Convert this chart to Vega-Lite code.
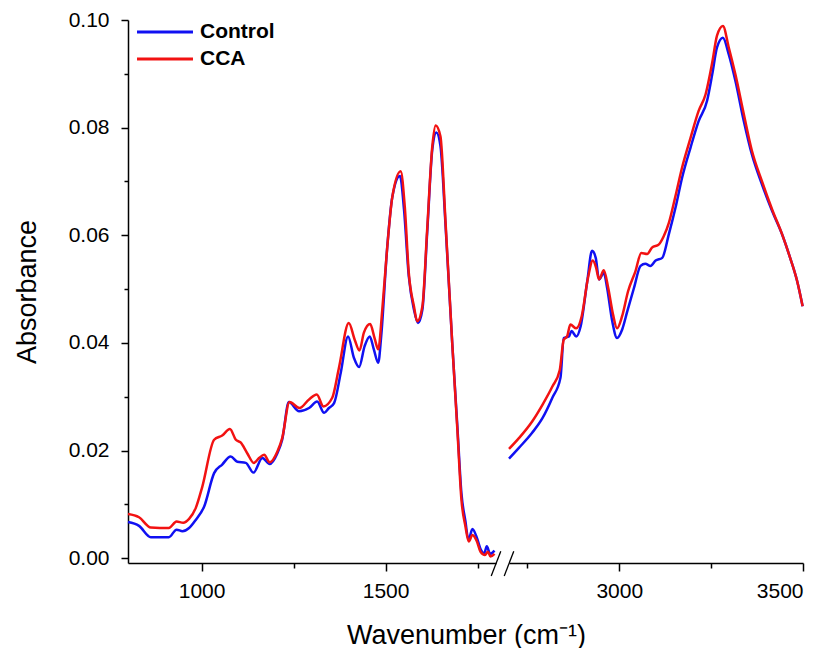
{
  "$schema": "https://vega.github.io/schema/vega-lite/v6.json",
  "padding": {"left": 13, "top": 9, "right": 0, "bottom": 0},
  "background": "white",
  "config": {
    "view": {"stroke": null},
    "font": "Liberation Sans",
    "axis": {"domainColor": "black", "domainWidth": 1.5, "tickColor": "black", "tickWidth": 1.5, "labelColor": "black", "titleColor": "black", "labelFont": "Liberation Sans", "titleFont": "Liberation Sans", "labelFontSize": 21, "titleFontSize": 27, "titleFontWeight": "normal", "grid": false}
  },
  "datasets": {
    "spectra": [
      {"s":"Control","wn":800,"a":0.0067},{"s":"Control","wn":830,"a":0.0060},{"s":"Control","wn":862,"a":0.0039},{"s":"Control","wn":911,"a":0.0039},{"s":"Control","wn":932,"a":0.0053},{"s":"Control","wn":948,"a":0.0050},{"s":"Control","wn":966,"a":0.0056},{"s":"Control","wn":984,"a":0.0071},{"s":"Control","wn":1007,"a":0.0096},{"s":"Control","wn":1034,"a":0.0158},{"s":"Control","wn":1056,"a":0.0174},{"s":"Control","wn":1079,"a":0.0189},{"s":"Control","wn":1097,"a":0.0179},{"s":"Control","wn":1120,"a":0.0177},{"s":"Control","wn":1141,"a":0.0159},{"s":"Control","wn":1165,"a":0.0186},{"s":"Control","wn":1185,"a":0.0175},{"s":"Control","wn":1206,"a":0.0195},{"s":"Control","wn":1219,"a":0.0220},{"s":"Control","wn":1237,"a":0.0290},{"s":"Control","wn":1265,"a":0.0273},{"s":"Control","wn":1292,"a":0.0279},{"s":"Control","wn":1314,"a":0.0291},{"s":"Control","wn":1333,"a":0.0270},{"s":"Control","wn":1346,"a":0.0279},{"s":"Control","wn":1360,"a":0.0288},{"s":"Control","wn":1378,"a":0.0344},{"s":"Control","wn":1398,"a":0.0412},{"s":"Control","wn":1414,"a":0.0372},{"s":"Control","wn":1428,"a":0.0355},{"s":"Control","wn":1443,"a":0.0394},{"s":"Control","wn":1457,"a":0.0412},{"s":"Control","wn":1468,"a":0.0388},{"s":"Control","wn":1480,"a":0.0363},{"s":"Control","wn":1488,"a":0.0412},{"s":"Control","wn":1504,"a":0.0574},{"s":"Control","wn":1518,"a":0.0670},{"s":"Control","wn":1539,"a":0.0710},{"s":"Control","wn":1550,"a":0.0648},{"s":"Control","wn":1563,"a":0.0524},{"s":"Control","wn":1577,"a":0.0462},{"s":"Control","wn":1588,"a":0.0437},{"s":"Control","wn":1600,"a":0.0462},{"s":"Control","wn":1613,"a":0.0605},{"s":"Control","wn":1627,"a":0.0760},{"s":"Control","wn":1638,"a":0.0791},{"s":"Control","wn":1649,"a":0.0766},{"s":"Control","wn":1663,"a":0.0617},{"s":"Control","wn":1681,"a":0.0400},{"s":"Control","wn":1695,"a":0.0245},{"s":"Control","wn":1706,"a":0.0121},{"s":"Control","wn":1717,"a":0.0068},{"s":"Control","wn":1725,"a":0.0034},{"s":"Control","wn":1736,"a":0.0054},{"s":"Control","wn":1747,"a":0.0040},{"s":"Control","wn":1758,"a":0.0017},{"s":"Control","wn":1768,"a":0.0009},{"s":"Control","wn":1775,"a":0.0022},{"s":"Control","wn":1784,"a":0.0008},{"s":"Control","wn":1796,"a":0.0014},
      {"s":"Control","wn":2700,"a":0.0185},{"s":"Control","wn":2727,"a":0.0205},{"s":"Control","wn":2763,"a":0.0233},{"s":"Control","wn":2791,"a":0.0260},{"s":"Control","wn":2818,"a":0.0298},{"s":"Control","wn":2840,"a":0.0335},{"s":"Control","wn":2849,"a":0.0409},{"s":"Control","wn":2863,"a":0.0412},{"s":"Control","wn":2870,"a":0.0422},{"s":"Control","wn":2883,"a":0.0412},{"s":"Control","wn":2895,"a":0.0431},{"s":"Control","wn":2913,"a":0.0515},{"s":"Control","wn":2926,"a":0.0571},{"s":"Control","wn":2936,"a":0.0558},{"s":"Control","wn":2945,"a":0.0518},{"s":"Control","wn":2958,"a":0.0530},{"s":"Control","wn":2967,"a":0.0502},{"s":"Control","wn":2981,"a":0.0440},{"s":"Control","wn":2994,"a":0.0409},{"s":"Control","wn":3008,"a":0.0425},{"s":"Control","wn":3022,"a":0.0459},{"s":"Control","wn":3040,"a":0.0502},{"s":"Control","wn":3058,"a":0.0543},{"s":"Control","wn":3071,"a":0.0547},{"s":"Control","wn":3085,"a":0.0543},{"s":"Control","wn":3099,"a":0.0553},{"s":"Control","wn":3117,"a":0.0558},{"s":"Control","wn":3135,"a":0.0602},{"s":"Control","wn":3153,"a":0.0651},{"s":"Control","wn":3171,"a":0.0707},{"s":"Control","wn":3194,"a":0.0763},{"s":"Control","wn":3216,"a":0.0812},{"s":"Control","wn":3239,"a":0.0850},{"s":"Control","wn":3253,"a":0.0899},{"s":"Control","wn":3266,"a":0.0949},{"s":"Control","wn":3282,"a":0.0967},{"s":"Control","wn":3298,"a":0.0936},{"s":"Control","wn":3316,"a":0.0887},{"s":"Control","wn":3339,"a":0.0812},{"s":"Control","wn":3361,"a":0.0750},{"s":"Control","wn":3388,"a":0.0695},{"s":"Control","wn":3416,"a":0.0645},{"s":"Control","wn":3443,"a":0.0602},{"s":"Control","wn":3465,"a":0.0558},{"s":"Control","wn":3484,"a":0.0515},{"s":"Control","wn":3499,"a":0.0468},
      {"s":"CCA","wn":800,"a":0.0082},{"s":"CCA","wn":830,"a":0.0076},{"s":"CCA","wn":862,"a":0.0057},{"s":"CCA","wn":911,"a":0.0056},{"s":"CCA","wn":932,"a":0.0068},{"s":"CCA","wn":950,"a":0.0066},{"s":"CCA","wn":966,"a":0.0073},{"s":"CCA","wn":984,"a":0.0093},{"s":"CCA","wn":1002,"a":0.0133},{"s":"CCA","wn":1034,"a":0.0220},{"s":"CCA","wn":1056,"a":0.0228},{"s":"CCA","wn":1077,"a":0.0240},{"s":"CCA","wn":1093,"a":0.0220},{"s":"CCA","wn":1106,"a":0.0215},{"s":"CCA","wn":1124,"a":0.0195},{"s":"CCA","wn":1142,"a":0.0177},{"s":"CCA","wn":1156,"a":0.0186},{"s":"CCA","wn":1170,"a":0.0192},{"s":"CCA","wn":1185,"a":0.0178},{"s":"CCA","wn":1206,"a":0.0198},{"s":"CCA","wn":1219,"a":0.0223},{"s":"CCA","wn":1239,"a":0.0290},{"s":"CCA","wn":1266,"a":0.0279},{"s":"CCA","wn":1292,"a":0.0295},{"s":"CCA","wn":1313,"a":0.0304},{"s":"CCA","wn":1331,"a":0.0282},{"s":"CCA","wn":1355,"a":0.0298},{"s":"CCA","wn":1373,"a":0.0353},{"s":"CCA","wn":1400,"a":0.0437},{"s":"CCA","wn":1416,"a":0.0406},{"s":"CCA","wn":1429,"a":0.0386},{"s":"CCA","wn":1441,"a":0.0419},{"s":"CCA","wn":1458,"a":0.0435},{"s":"CCA","wn":1470,"a":0.0409},{"s":"CCA","wn":1480,"a":0.0388},{"s":"CCA","wn":1491,"a":0.0462},{"s":"CCA","wn":1504,"a":0.0574},{"s":"CCA","wn":1518,"a":0.0670},{"s":"CCA","wn":1541,"a":0.0719},{"s":"CCA","wn":1552,"a":0.0654},{"s":"CCA","wn":1563,"a":0.0530},{"s":"CCA","wn":1577,"a":0.0468},{"s":"CCA","wn":1586,"a":0.0440},{"s":"CCA","wn":1600,"a":0.0468},{"s":"CCA","wn":1613,"a":0.0611},{"s":"CCA","wn":1627,"a":0.0766},{"s":"CCA","wn":1636,"a":0.0804},{"s":"CCA","wn":1649,"a":0.0784},{"s":"CCA","wn":1663,"a":0.0623},{"s":"CCA","wn":1681,"a":0.0400},{"s":"CCA","wn":1695,"a":0.0239},{"s":"CCA","wn":1706,"a":0.0109},{"s":"CCA","wn":1717,"a":0.0059},{"s":"CCA","wn":1726,"a":0.0031},{"s":"CCA","wn":1736,"a":0.0043},{"s":"CCA","wn":1747,"a":0.0033},{"s":"CCA","wn":1758,"a":0.0012},{"s":"CCA","wn":1770,"a":0.0006},{"s":"CCA","wn":1778,"a":0.0012},{"s":"CCA","wn":1785,"a":0.0003},{"s":"CCA","wn":1796,"a":0.0008},
      {"s":"CCA","wn":2700,"a":0.0203},{"s":"CCA","wn":2727,"a":0.0223},{"s":"CCA","wn":2763,"a":0.0254},{"s":"CCA","wn":2791,"a":0.0285},{"s":"CCA","wn":2818,"a":0.0319},{"s":"CCA","wn":2838,"a":0.0349},{"s":"CCA","wn":2849,"a":0.0406},{"s":"CCA","wn":2858,"a":0.0412},{"s":"CCA","wn":2867,"a":0.0434},{"s":"CCA","wn":2883,"a":0.0427},{"s":"CCA","wn":2898,"a":0.0450},{"s":"CCA","wn":2915,"a":0.0521},{"s":"CCA","wn":2928,"a":0.0553},{"s":"CCA","wn":2937,"a":0.0540},{"s":"CCA","wn":2945,"a":0.0518},{"s":"CCA","wn":2958,"a":0.0535},{"s":"CCA","wn":2970,"a":0.0502},{"s":"CCA","wn":2983,"a":0.0453},{"s":"CCA","wn":2994,"a":0.0427},{"s":"CCA","wn":3008,"a":0.0450},{"s":"CCA","wn":3024,"a":0.0496},{"s":"CCA","wn":3044,"a":0.0533},{"s":"CCA","wn":3060,"a":0.0567},{"s":"CCA","wn":3076,"a":0.0565},{"s":"CCA","wn":3089,"a":0.0577},{"s":"CCA","wn":3108,"a":0.0583},{"s":"CCA","wn":3121,"a":0.0598},{"s":"CCA","wn":3135,"a":0.0623},{"s":"CCA","wn":3153,"a":0.0673},{"s":"CCA","wn":3171,"a":0.0726},{"s":"CCA","wn":3194,"a":0.0781},{"s":"CCA","wn":3216,"a":0.0831},{"s":"CCA","wn":3235,"a":0.0862},{"s":"CCA","wn":3253,"a":0.0921},{"s":"CCA","wn":3266,"a":0.0971},{"s":"CCA","wn":3282,"a":0.0989},{"s":"CCA","wn":3298,"a":0.0949},{"s":"CCA","wn":3316,"a":0.0899},{"s":"CCA","wn":3339,"a":0.0825},{"s":"CCA","wn":3361,"a":0.0757},{"s":"CCA","wn":3388,"a":0.0701},{"s":"CCA","wn":3416,"a":0.0648},{"s":"CCA","wn":3443,"a":0.0602},{"s":"CCA","wn":3465,"a":0.0558},{"s":"CCA","wn":3484,"a":0.0515},{"s":"CCA","wn":3499,"a":0.0468}
    ]
  },
  "bounds": "flush",
  "spacing": 13,
  "resolve": {"scale": {"color": "shared", "y": "shared"}, "legend": {"color": "independent"}},
  "hconcat": [
    {
      "width": 368,
      "height": 543,
      "layer": [
        {
          "data": {"name": "spectra"},
          "transform": [{"filter": "datum.wn <= 1800 && datum.s === 'Control'"}],
          "mark": {"type": "line", "strokeWidth": 2.5, "interpolate": "monotone"},
          "encoding": {
            "x": {"field": "wn", "type": "quantitative", "scale": {"domain": [800, 1800], "nice": false, "zero": false},
              "axis": {"values": [1000, 1250, 1500, 1750], "format": "d", "labelExpr": "datum.value % 500 === 0 ? datum.label : ''",
                "tickSize": {"condition": {"test": "datum.value % 500 === 0", "value": 8}, "value": 5},
                "labelPadding": 9, "title": "Wavenumber (cm⁻¹)", "titleX": 338, "titleAlign": "center", "titlePadding": 21}},
            "y": {"field": "a", "type": "quantitative", "scale": {"domain": [-0.0009, 0.1], "nice": false, "zero": false},
              "axis": {"values": [0, 0.01, 0.02, 0.03, 0.04, 0.05, 0.06, 0.07, 0.08, 0.09, 0.1], "format": ".2f",
                "labelExpr": "round(datum.value*100) % 2 === 0 ? datum.label : ''",
                "tickSize": {"condition": {"test": "round(datum.value*100) % 2 === 0", "value": 7}, "value": 4},
                "labelPadding": 12, "title": "Absorbance", "titlePadding": 27}},
            "color": {"field": "s", "type": "nominal", "scale": {"domain": ["Control", "CCA"], "range": ["#1010f2", "#f21212"]},
              "legend": {"orient": "top-left", "title": null, "offset": 1, "padding": 0, "symbolType": "M-3,0H3", "symbolSize": 348, "symbolStrokeWidth": 3, "symbolOffset": 25, "labelFontSize": 21, "labelFontWeight": "bold", "labelFont": "Liberation Sans", "labelColor": "black", "labelOffset": 24, "rowPadding": 6}}
          }
        },
        {
          "data": {"name": "spectra"},
          "transform": [{"filter": "datum.wn <= 1800 && datum.s === 'CCA'"}],
          "mark": {"type": "line", "strokeWidth": 2.5, "interpolate": "monotone"},
          "encoding": {
            "x": {"field": "wn", "type": "quantitative"},
            "y": {"field": "a", "type": "quantitative"},
            "color": {"field": "s", "type": "nominal"}
          }
        },
        {
          "data": {"values": [{}]},
          "mark": {"type": "rule", "color": "black", "strokeWidth": 1.3},
          "encoding": {"x": {"datum": 1787}, "x2": {"datum": 1813}, "y": {"datum": -0.0033}, "y2": {"datum": 0.0013}}
        }
      ]
    },
    {
      "width": 294,
      "height": 543,
      "layer": [
        {
          "data": {"name": "spectra"},
          "transform": [{"filter": "datum.wn >= 2700 && datum.s === 'Control'"}],
          "mark": {"type": "line", "strokeWidth": 2.5, "interpolate": "monotone"},
          "encoding": {
            "x": {"field": "wn", "type": "quantitative", "scale": {"domain": [2700, 3500], "nice": false, "zero": false},
              "axis": {"values": [2750, 3000, 3250, 3500], "format": "d", "labelExpr": "datum.value % 500 === 0 ? datum.label : ''",
                "tickSize": {"condition": {"test": "datum.value % 500 === 0", "value": 8}, "value": 5},
                "labelPadding": 9, "title": null}},
            "y": {"field": "a", "type": "quantitative", "scale": {"domain": [-0.0009, 0.1], "nice": false, "zero": false}, "axis": null},
            "color": {"field": "s", "type": "nominal", "legend": null}
          }
        },
        {
          "data": {"name": "spectra"},
          "transform": [{"filter": "datum.wn >= 2700 && datum.s === 'CCA'"}],
          "mark": {"type": "line", "strokeWidth": 2.5, "interpolate": "monotone"},
          "encoding": {
            "x": {"field": "wn", "type": "quantitative"},
            "y": {"field": "a", "type": "quantitative"},
            "color": {"field": "s", "type": "nominal", "legend": null}
          }
        },
        {
          "data": {"values": [{}]},
          "mark": {"type": "rule", "color": "black", "strokeWidth": 1.3},
          "encoding": {"x": {"datum": 2687}, "x2": {"datum": 2713}, "y": {"datum": -0.0033}, "y2": {"datum": 0.0013}}
        }
      ]
    }
  ]
}
